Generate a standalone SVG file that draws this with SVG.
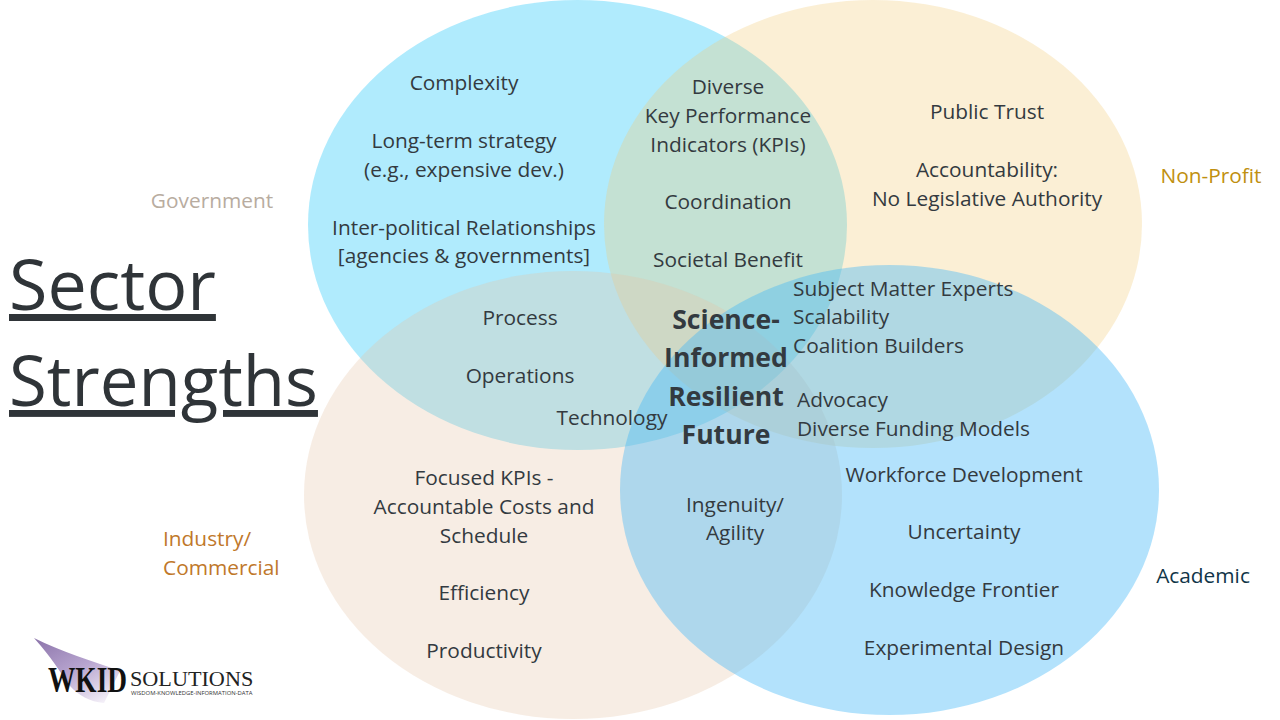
<svg xmlns="http://www.w3.org/2000/svg" width="1280" height="720" viewBox="0 0 1280 720">
<defs>
<linearGradient id="swoosh" x1="0.1" y1="0" x2="0.8" y2="1">
<stop offset="0" stop-color="#8f78ad"/><stop offset=".5" stop-color="#b7a4cf"/><stop offset="1" stop-color="#f4f0f8"/>
</linearGradient>
</defs>
<style>
text{font-family:"Open Sans","Noto Sans","Liberation Sans",sans-serif;font-size:20.85px;fill:#333a40;text-anchor:middle}
.l{text-anchor:start}
.c{font-weight:700;font-size:26.6px}
.t{font-size:69px;text-decoration:underline;text-anchor:start;fill:#2f3438}
</style>
<rect width="1280" height="720" fill="#fff"/>
<g id="ellipses">
<ellipse id="government" cx="577.5" cy="225" rx="269.5" ry="225" fill="#39cdfa" fill-opacity=".4"/>
<ellipse id="nonprofit" cx="873" cy="224" rx="269" ry="224" fill="#f2ca73" fill-opacity=".3"/>
<ellipse id="industry" cx="573" cy="495" rx="269" ry="224" fill="#e4c3a5" fill-opacity=".3"/>
<ellipse id="academic" cx="889.5" cy="490" rx="269.5" ry="225" fill="#41b6f7" fill-opacity=".4"/>
</g>
<g id="title"><text class="t" x="9" y="310" style="font-size:70px">Sector</text><text class="t" x="9" y="406">Strengths</text></g>
<g transform="translate(0 -.3)">
<g id="labels">
<text x="212" y="208" style="fill:#b8aca0">Government</text>
<text x="1211" y="183" style="fill:#c09010">Non-Profit</text>
<text class="l" x="163" y="546" style="fill:#c0782a">Industry/</text>
<text class="l" x="163" y="575" style="fill:#c0782a">Commercial</text>
<text x="1203" y="583" style="fill:#103548">Academic</text>
</g>
<g id="gov-text">
<text x="464" y="90.6">Complexity</text>
<text x="464" y="148.6">Long-term strategy</text>
<text x="464" y="177">(e.g., expensive dev.)</text>
<text x="464" y="235">Inter-political Relationships</text>
<text x="464" y="263">[agencies &amp; governments]</text>
</g>
<g id="gov-np-text">
<text x="728" y="94">Diverse</text>
<text x="728" y="123">Key Performance</text>
<text x="728" y="152">Indicators (KPIs)</text>
<text x="728" y="209">Coordination</text>
<text x="728" y="267">Societal Benefit</text>
</g>
<g id="np-text">
<text x="987" y="119.6">Public Trust</text>
<text x="987" y="177">Accountability:</text>
<text x="987" y="206">No Legislative Authority</text>
</g>
<g id="np-ac-text">
<text class="l" x="793" y="296">Subject Matter Experts</text>
<text class="l" x="793" y="324">Scalability</text>
<text class="l" x="793" y="353">Coalition Builders</text>
<text class="l" x="797" y="407">Advocacy</text>
<text class="l" x="797" y="436">Diverse Funding Models</text>
</g>
<g id="gov-ind-text">
<text x="520" y="325.6">Process</text>
<text x="520" y="383">Operations</text>
<text x="612" y="425">Technology</text>
</g>
<g id="center">
<text class="c" x="726" y="329.3">Science-</text>
<text class="c" x="726" y="367.3">Informed</text>
<text class="c" x="726" y="406.3">Resilient</text>
<text class="c" x="726" y="444.3">Future</text>
</g>
<g id="ind-text">
<text x="484" y="485">Focused KPIs -</text>
<text x="484" y="514">Accountable Costs and</text>
<text x="484" y="543">Schedule</text>
<text x="484" y="600">Efficiency</text>
<text x="484" y="658">Productivity</text>
</g>
<g id="ind-ac-text">
<text x="735" y="512">Ingenuity/</text>
<text x="735" y="540">Agility</text>
</g>
<g id="ac-text">
<text x="964" y="482">Workforce Development</text>
<text x="964" y="539.6">Uncertainty</text>
<text x="964" y="597">Knowledge Frontier</text>
<text x="964" y="655">Experimental Design</text>
</g>
</g>
<g id="logo">
<path d="M34,638 C62,652 90,660 120,671 L104,703 C90,702 78,695 70,686 C60,672 52,658 34,638 Z" fill="url(#swoosh)"/>
<text class="l" transform="translate(48 692) scale(.76 1)" style="font-family:'Liberation Serif',serif;font-weight:700;font-size:36px;fill:#111">WKID</text>
<text class="l" transform="translate(130 685.5) scale(1.11 1.05)" style="font-family:'Liberation Serif',serif;font-size:20px;fill:#222">SOLUTIONS</text>
<text class="l" transform="translate(131 695) scale(1.31 1)" style="font-size:4.5px;fill:#333">WISDOM-KNOWLEDGE-INFORMATION-DATA</text>
</g>
</svg>
